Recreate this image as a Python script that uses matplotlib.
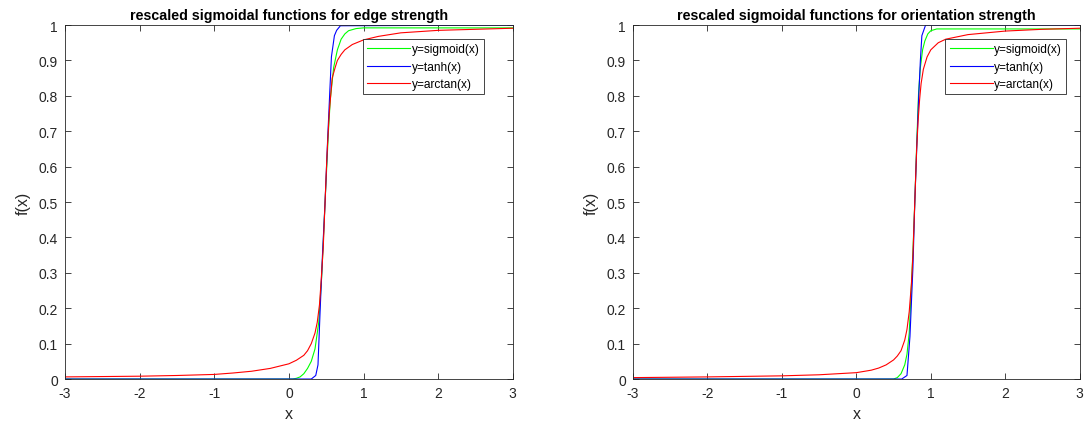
import matplotlib
matplotlib.use("Agg")
import matplotlib.pyplot as plt
from matplotlib.ticker import FormatStrFormatter, MultipleLocator

plt.rcParams['font.family'] = ['Liberation Sans', 'DejaVu Sans']

# --- values (edge strength panel) ---
edge_sig_x = [-3, 0.05, 0.1, 0.15, 0.2, 0.25, 0.3, 0.35, 0.4, 0.44, 0.485, 0.53, 0.555,
              0.6, 0.65, 0.7, 0.75, 0.8, 0.9, 1.0, 3]
edge_sig_y = [0.0, 0.0, 0.002, 0.006, 0.015, 0.03, 0.05, 0.085, 0.16, 0.29, 0.5, 0.70, 0.79,
              0.88, 0.93, 0.96, 0.975, 0.984, 0.99, 0.992, 0.992]

edge_tanh_x = [-3, 0.30, 0.36, 0.39, 0.42, 0.45, 0.485, 0.52, 0.55, 0.57, 0.61, 0.64, 0.69, 3]
edge_tanh_y = [0.0, 0.0, 0.01, 0.04, 0.2, 0.35, 0.5, 0.68, 0.82, 0.91, 0.97, 0.985, 0.998, 1.0]

edge_atan_x = [-3, -2.5, -2, -1.5, -1, -0.75, -0.5, -0.25, 0.0, 0.1, 0.2, 0.25, 0.3, 0.35,
               0.38, 0.41, 0.43, 0.46, 0.485, 0.51, 0.54, 0.56, 0.58, 0.62, 0.65, 0.70,
               0.75, 0.85, 1.0, 1.2, 1.5, 2, 2.5, 3]
edge_atan_y = [0.006, 0.007, 0.008, 0.010, 0.013, 0.017, 0.022, 0.030, 0.043, 0.053, 0.067,
               0.08, 0.10, 0.13, 0.16, 0.21, 0.27, 0.37, 0.5, 0.63, 0.75, 0.80, 0.85, 0.88,
               0.90, 0.917, 0.93, 0.945, 0.958, 0.968, 0.978, 0.985, 0.988, 0.991]

# --- values (orientation strength panel) ---
ori_sig_x = [-3, 0.5, 0.55, 0.6, 0.65, 0.68, 0.71, 0.73, 0.76, 0.785, 0.81, 0.836, 0.86,
             0.89, 0.92, 0.96, 1.0, 1.08, 3]
ori_sig_y = [0.0, 0.0, 0.004, 0.015, 0.04, 0.07, 0.13, 0.22, 0.36, 0.5, 0.66, 0.81, 0.88,
             0.93, 0.955, 0.975, 0.984, 0.989, 0.989]

ori_tanh_x = [-3, 0.61, 0.68, 0.72, 0.76, 0.785, 0.81, 0.836, 0.86, 0.88, 0.93, 3]
ori_tanh_y = [0.0, 0.0, 0.01, 0.12, 0.315, 0.5, 0.646, 0.79, 0.90, 0.97, 1.0, 1.0]

ori_atan_x = [-3, -2, -1, -0.5, 0.0, 0.2, 0.3, 0.4, 0.5, 0.55, 0.6, 0.65, 0.68, 0.71, 0.74,
              0.76, 0.785, 0.81, 0.83, 0.85, 0.87, 0.9, 0.95, 1.0, 1.1, 1.2, 1.5, 2, 2.5, 3]
ori_atan_y = [0.004, 0.006, 0.009, 0.012, 0.018, 0.025, 0.031, 0.040, 0.054, 0.065, 0.08,
              0.11, 0.14, 0.19, 0.27, 0.35, 0.5, 0.65, 0.73, 0.79, 0.835, 0.875, 0.91,
              0.93, 0.95, 0.96, 0.973, 0.983, 0.988, 0.991]

titles = ["rescaled sigmoidal functions for edge strength",
          "rescaled sigmoidal functions for orientation strength"]
labels = ["y=sigmoid(x)", "y=tanh(x)", "y=arctan(x)"]

AX_COLOR = "#262626"

fig = plt.figure(figsize=(10.84, 4.27), dpi=100)
axes = [fig.add_axes([0.060, 0.110, 0.413, 0.829]),
        fig.add_axes([0.584, 0.110, 0.412, 0.829])]

panels = [
    ((edge_sig_x, edge_sig_y), (edge_tanh_x, edge_tanh_y), (edge_atan_x, edge_atan_y)),
    ((ori_sig_x, ori_sig_y), (ori_tanh_x, ori_tanh_y), (ori_atan_x, ori_atan_y)),
]
legend_anchor = [(0.935, 0.960), (0.969, 0.960)]

for ax, curves, title, anchor in zip(axes, panels, titles, legend_anchor):
    for (xs, ys), color, lab in zip(curves, ["#00ff00", "#0000ff", "#ff0000"], labels):
        ax.plot(xs, ys, color=color, lw=0.8, label=lab)

    ax.set_xlim(-3, 3)
    ax.set_ylim(0, 1)
    ax.xaxis.set_major_locator(MultipleLocator(1))
    ax.yaxis.set_major_locator(MultipleLocator(0.1))
    ax.yaxis.set_major_formatter(FormatStrFormatter('%g'))
    ax.xaxis.set_major_formatter(FormatStrFormatter('%g'))
    ax.tick_params(direction='in', top=True, right=True, length=4, width=0.6,
                   colors=AX_COLOR, labelsize=10, pad=5)
    for sp in ax.spines.values():
        sp.set_color(AX_COLOR)
        sp.set_linewidth(0.6)

    ax.set_title(title, fontsize=10.3, fontweight='bold', pad=4, color='black')
    ax.set_xlabel("x", fontsize=11.5, color=AX_COLOR, labelpad=4)
    ax.set_ylabel("f(x)", fontsize=11.5, color=AX_COLOR, labelpad=6)

    leg = ax.legend(loc='upper right', bbox_to_anchor=anchor, fontsize=8.6,
                    handlelength=3.6, handletextpad=0.1, borderpad=0.35,
                    labelspacing=0.45, fancybox=False, framealpha=1,
                    borderaxespad=0)
    leg.get_frame().set_edgecolor(AX_COLOR)
    leg.get_frame().set_linewidth(0.6)

fig.savefig("out.png", dpi=100)
